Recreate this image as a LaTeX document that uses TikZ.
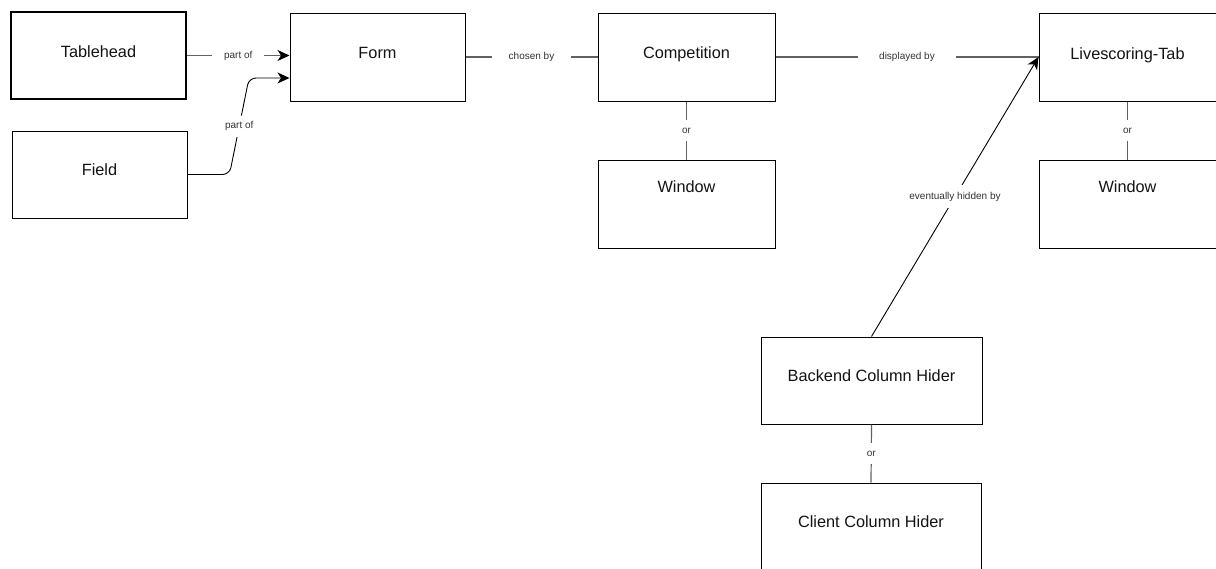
\documentclass[tikz,border=0pt]{standalone}
\usepackage{fontspec}
\setmainfont{Liberation Sans}
\usetikzlibrary{arrows.meta,calc}
\begin{document}
\begin{tikzpicture}[x=1pt,y=-1pt,
  box/.style={draw=black, line width=1pt, minimum width=175pt, minimum height=87pt, inner sep=0pt, fill=white},
  boxtext/.style={font=\fontsize{16.3}{19}\selectfont, text=black!92, anchor=base, inner sep=0pt},
  conn/.style={draw=black!62, line width=1.2pt},
  link/.style={draw=black, line width=0.9pt},
  lbl/.style={font=\fontsize{10}{12}\selectfont, text=black!80, fill=white, inner ysep=7pt},
  tip/.style={-{Stealth[length=12pt,width=11pt,inset=3.5pt,color=black]}},
]
\path[use as bounding box] (0,0) rectangle (1216,568);
\clip (0,0) rectangle (1216,568);

% entity boxes
\node[box, line width=2pt] (Tablehead) at (98.5,55.5) {};
\node[box] (Field) at (99.5,174.5) {};
\node[box, minimum height=88pt] (Form) at (377.5,57) {};
\node[box, minimum width=177pt, minimum height=88pt] (Competition) at (686.5,57) {};
\node[box, minimum width=177pt, minimum height=88pt] (WinA) at (686.5,204) {};
\node[box, minimum width=177pt, minimum height=88pt] (Live) at (1127.5,57) {};
\node[box, minimum width=177pt, minimum height=88pt] (WinB) at (1127.5,204) {};
\node[box, minimum width=221pt] (Backend) at (871.5,380.5) {};
\node[box, minimum width=220pt] (Client) at (871,526.5) {};

% box captions
\node[boxtext] (tTablehead) at ($(Tablehead.north)+(0,46)$) {Tablehead};
\node[boxtext] (tField) at ($(Field.north)+(0,45)$) {Field};
\node[boxtext] (tForm) at ($(Form.north)+(0,46)$) {Form};
\node[boxtext] (tCompetition) at ($(Competition.north)+(0,46)$) {Competition};
\node[boxtext] (tWinA) at ($(WinA.north)+(0,33)$) {Window};
\node[boxtext] (tLive) at ($(Live.north)+(0,47)$) {Livescoring-Tab};
\node[boxtext] (tWinB) at ($(WinB.north)+(0,33)$) {Window};
\node[boxtext] (tBackend) at ($(Backend.north)+(0,45)$) {Backend Column Hider};
\node[boxtext] (tClient) at ($(Client.north)+(0,45)$) {Client Column Hider};

% relations
\coordinate (formlow) at ($(Form.west)+(0,21)$);
\draw[conn, tip] (Tablehead.east) -- node[lbl, inner xsep=12pt] (lPartA) {part of} (Form.west |- Tablehead.east);
\draw[link, tip, rounded corners=7pt] (Field.east) -- ++(42,0)
  -- node[lbl, inner xsep=2pt, inner ysep=6pt] (lPartB) {part of} (249,78) -- (formlow);
\draw[conn] (Form.east) -- node[lbl, inner xsep=17pt] (lChosen) {chosen by} (Competition.west);
\draw[conn] (Competition.east) -- node[lbl, inner xsep=21pt] (lShown) {displayed by} (Live.west);
\draw[conn] (Competition.south) -- node[lbl, inner xsep=3pt, inner ysep=8pt] (lOrA) {or} (WinA.north);
\draw[conn] (Live.south) -- node[lbl, inner xsep=3pt, inner ysep=8pt] (lOrB) {or} (WinB.north);
\draw[conn] (Backend.south) -- node[lbl, inner xsep=3pt, inner ysep=8pt] (lOrC) {or} (Client.north);
\draw[link, tip] (Backend.north) -- node[lbl, inner xsep=2pt, inner ysep=7pt] (lHidden) {eventually hidden by} (Live.west);
\end{tikzpicture}
\end{document}
